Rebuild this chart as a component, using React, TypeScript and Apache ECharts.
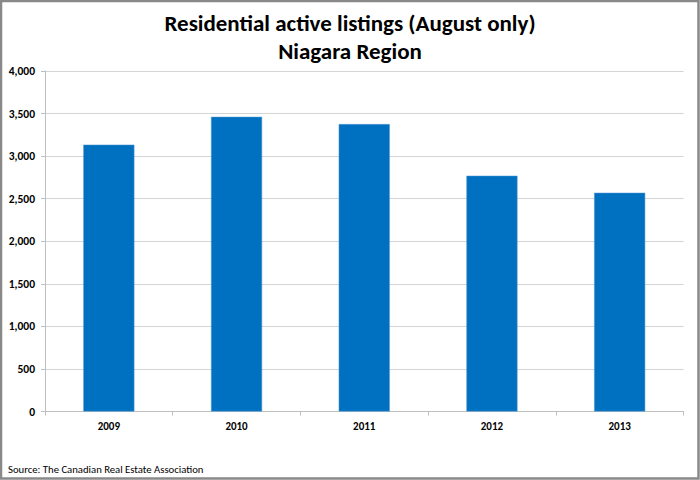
import React, { useEffect, useRef } from "react";
import * as echarts from "echarts";

const categories = ["2009", "2010", "2011", "2012", "2013"];
const listings = [3135, 3462, 3376, 2770, 2570];
const titleLines = ["Residential active listings (August only)", "Niagara Region"];
const sourceText = "Source: The Canadian Real Estate Association";

const FONT = "Carlito, Lato, 'Open Sans', sans-serif";

export default function App() {
  const ref = useRef<HTMLDivElement>(null);
  useEffect(() => {
    if (!ref.current) return;
    const chart = echarts.init(ref.current, undefined, { renderer: "svg" });
    chart.setOption({
      animation: false,
      backgroundColor: "#ffffff",
      textStyle: { fontFamily: FONT },
      grid: { left: 45, right: 16.5, top: 71, bottom: 68.5, containLabel: false },
      xAxis: {
        type: "category",
        data: categories,
        axisLine: { show: true, lineStyle: { color: "#bfbfbf", width: 1 } },
        axisTick: { show: true, alignWithLabel: false, length: 4, lineStyle: { color: "#bfbfbf" } },
        axisLabel: {
          color: "#000000",
          fontWeight: "bold",
          fontSize: 11,
          fontFamily: FONT,
          margin: 9,
        },
      },
      yAxis: {
        type: "value",
        min: 0,
        max: 4000,
        interval: 500,
        axisLine: { show: true, lineStyle: { color: "#bfbfbf", width: 1 } },
        axisTick: { show: true, length: 4, lineStyle: { color: "#bfbfbf" } },
        splitLine: { show: true, lineStyle: { color: "#d4d4d4", width: 1 } },
        axisLabel: {
          color: "#000000",
          fontWeight: "bold",
          fontSize: 11.5,
          fontFamily: FONT,
          margin: 10,
          formatter: (v: number) => v.toLocaleString("en-US"),
        },
      },
      series: [
        {
          type: "bar",
          data: listings,
          barWidth: "40%",
          itemStyle: { color: "#0070c0", borderColor: "#5b9bd5", borderWidth: 0.5 },
        },
      ],
      graphic: [
        {
          type: "rect",
          shape: { x: 1, y: 1, width: 697.5, height: 477.5 },
          style: { fill: "none", stroke: "#898989", lineWidth: 2.5 },
          silent: true,
        },
        {
          type: "text",
          x: 350,
          y: 23,
          style: {
            text: titleLines[0],
            fontFamily: FONT,
            fontWeight: "bold",
            fontSize: 23,
            fill: "#000000",
            textAlign: "center",
            textVerticalAlign: "middle",
          },
        },
        {
          type: "text",
          x: 350,
          y: 51,
          style: {
            text: titleLines[1],
            fontFamily: FONT,
            fontWeight: "bold",
            fontSize: 23,
            fill: "#000000",
            textAlign: "center",
            textVerticalAlign: "middle",
          },
        },
        {
          type: "text",
          x: 8,
          y: 469.5,
          style: {
            text: sourceText,
            fontFamily: FONT,
            fontSize: 10.7,
            fill: "#000000",
            textAlign: "left",
            textVerticalAlign: "middle",
          },
        },
      ],
    });
    return () => chart.dispose();
  }, []);
  return (
    <div
      ref={ref}
      style={{ position: "absolute", left: 0, top: 0, width: 700, height: 480 }}
    />
  );
}
